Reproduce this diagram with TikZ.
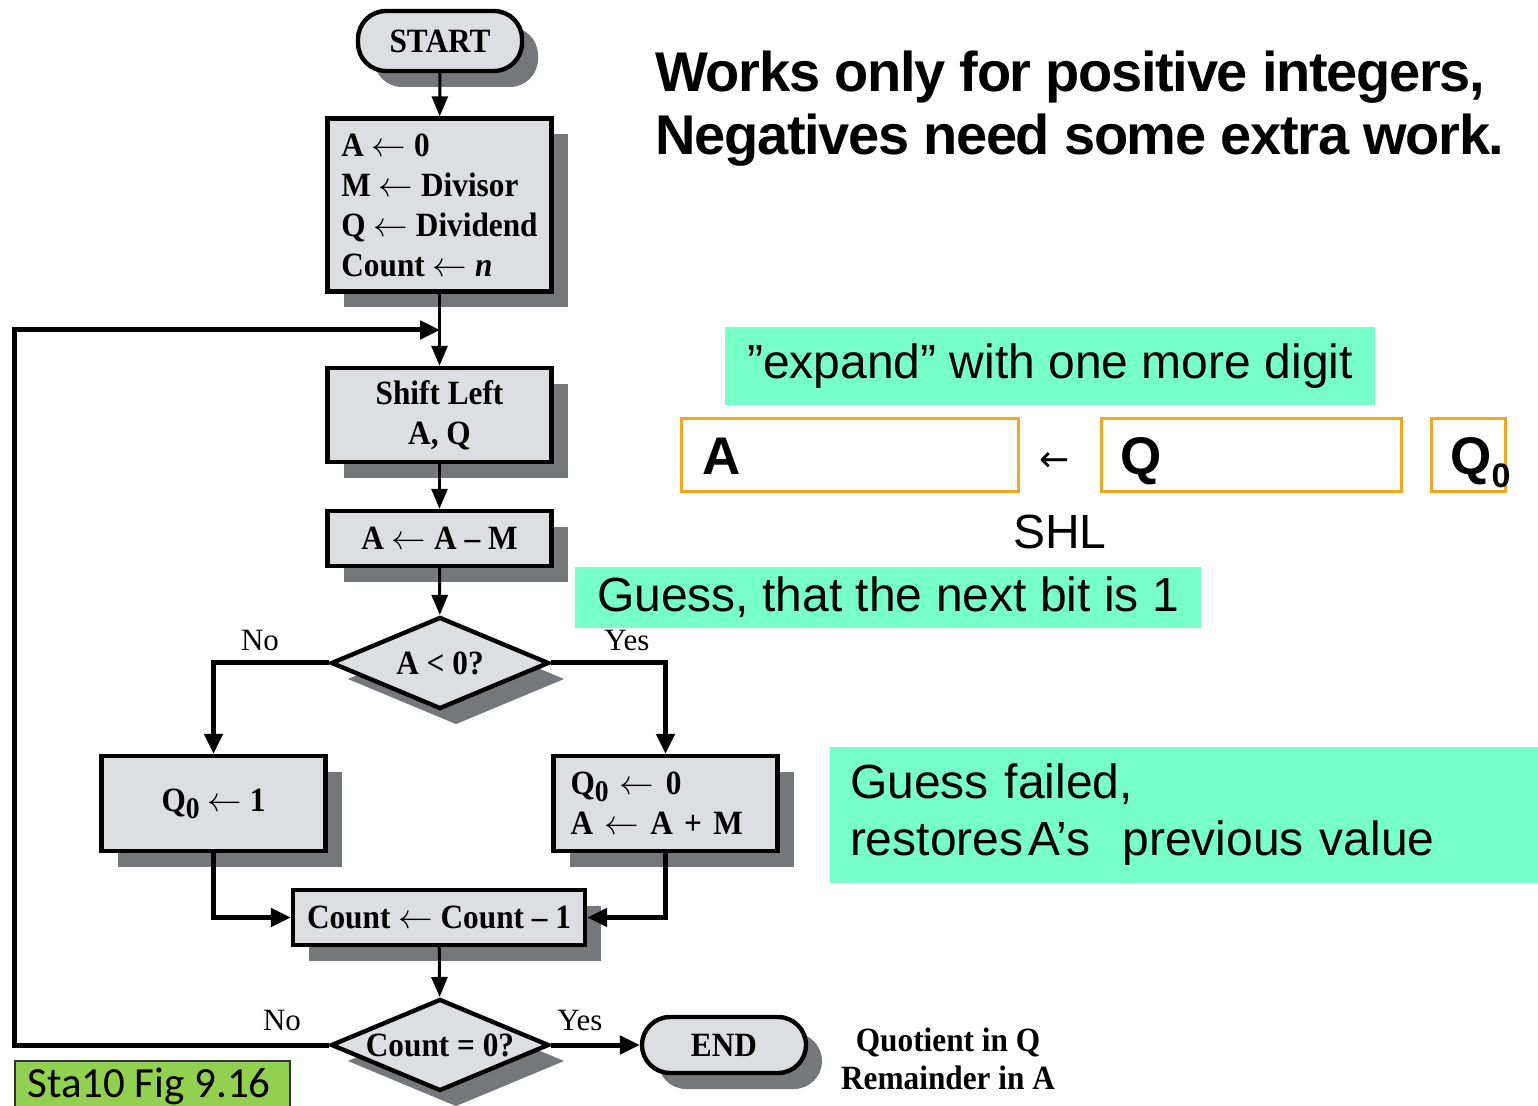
\documentclass[tikz,border=0pt]{standalone}
\usepackage{fontspec}
\usetikzlibrary{shapes.geometric,shadows,arrows.meta}
\setmainfont{Liberation Serif}
\newfontfamily\chartfont[FakeStretch=0.92]{Liberation Serif}
\newfontfamily\labelfont{Liberation Serif}
\newfontfamily\notefont{Liberation Sans}
\newfontfamily\headfont[LetterSpace=-2.4]{Liberation Sans}
\newfontfamily\tagfont{Carlito}
\newfontfamily\symfont{DejaVu Sans}

\definecolor{boxgray}{RGB}{220,222,225}
\definecolor{shadowgray}{RGB}{117,119,122}
\definecolor{aqua}{RGB}{118,255,200}
\definecolor{regorange}{RGB}{250,165,30}
\definecolor{taggreen}{RGB}{146,208,80}

\newcommand{\la}{$\leftarrow$}
\newcommand{\subzero}{\raisebox{-0.45ex}{\fontsize{15}{15}\selectfont 0}}

\tikzset{
  chart/.style={font={\chartfont\bfseries\fontsize{17}{20}\selectfont}},
  procbox/.style={rectangle, draw=black, line width=2.2pt, fill=boxgray,
    drop shadow={shadow xshift=8pt, shadow yshift=-8pt, fill=shadowgray, opacity=1},
    chart, inner sep=0pt, align=center},
  termbox/.style={procbox, rounded corners=14pt},
  decision/.style={procbox, diamond, minimum width=109pt, minimum height=46pt},
  flow/.style={line width=1.5pt, -{Triangle[length=10pt,width=8pt]}},
  branch/.style={line width=2.5pt, -{Triangle[length=10pt,width=9pt]}},
  yn/.style={font={\labelfont\fontsize{15.5}{15.5}\selectfont}},
  note/.style={fill=aqua, inner sep=0pt, font={\notefont\fontsize{24}{28.5}\selectfont}},
  regbox/.style={rectangle, draw=regorange, line width=1.5pt, fill=white,
    minimum height=36.5pt, inner sep=0pt},
  regname/.style={anchor=base west, inner sep=0pt, font={\notefont\bfseries\fontsize{26.5}{26.5}\selectfont}},
}

\begin{document}
\begin{tikzpicture}[x=0.5pt, y=-0.5pt]
\useasboundingbox (0,0) rectangle (1538,1106);
\clip (0,0) rectangle (1538,1106);

% ---- flowchart nodes ----
\node[termbox, minimum width=82pt, minimum height=30pt] (start) at (440,41) {START};
\node[procbox, minimum width=112pt, minimum height=86.5pt, align=left] (init) at (439.5,205)
  {A \la{} 0\\M \la{} Divisor\\Q \la{} Dividend\\Count \la{} \textit{n}};
\node[procbox, minimum width=112pt, minimum height=47pt] (shift) at (439.5,415) {Shift Left\\A, Q};
\node[procbox, minimum width=112pt, minimum height=27.5pt] (sub) at (439.5,538.5) {A \la{} A – M};
\node[decision] (neg) at (440,663) {\makebox[0pt]{A < 0?}};
\node[procbox, minimum width=112pt, minimum height=47.5pt] (setone) at (213.5,803.5) {Q\subzero{} \la{} 1};
\node[procbox, minimum width=112pt, minimum height=47.5pt, text width=95pt, align=left] (restore) at (665.5,803.5)
  {Q\subzero{} \la{} 0\\A \la{} A + M};
\node[procbox, minimum width=146pt, minimum height=27.5pt] (dec) at (439,917.5) {Count \la{} Count – 1};
\node[decision] (zero) at (440,1045) {\makebox[0pt]{Count = 0?}};
\node[termbox, minimum width=82pt, minimum height=28pt] (finish) at (724,1045) {END};

\node[chart, anchor=base] (quot) at (948,1051) {Quotient in Q};
\node[chart, anchor=base] (rem) at (948,1089) {Remainder in A};

% ---- connectors ----
\coordinate (join) at (440,330);
\coordinate (lowleft) at (14,1045);
\coordinate (upleft) at (14,330);
\draw[flow] (start) -- (init);
\draw[flow] (init) -- (shift);
\draw[flow] (shift) -- (sub);
\draw[flow] (sub) -- (neg);
\draw[branch] (neg.west) -| (setone.north);
\draw[branch] (neg.east) -| (restore.north);
\draw[branch] (setone.south) |- (dec.west);
\draw[branch] (restore.south) |- (dec.east);
\draw[flow] (dec) -- (zero);
\draw[branch] (zero.east) -- (finish.west);
\draw[branch] (zero.west) -- (lowleft) -- (upleft) -- (join);

\node[yn] (no1) at (260,641) {No};
\node[yn] (yes1) at (627,641) {Yes};
\node[yn] (no2) at (282,1020) {No};
\node[yn] (yes2) at (580,1020) {Yes};

% ---- heading ----
\node[anchor=base west, inner sep=0pt, font={\headfont\bfseries\fontsize{28}{28}\selectfont}] (head1) at (655,92)
  {Works only for positive integers,};
\node[anchor=base west, inner sep=0pt, font={\headfont\bfseries\fontsize{28}{28}\selectfont}] (head2) at (655,155)
  {Negatives need some extra work.};

% ---- register picture ----
\node[note, minimum width=325pt, minimum height=39pt] (expand) at (1050,366) {\raisebox{-2pt}{”expand” with one more digit}};
\node[regbox, minimum width=168.5pt] (rega) at (850,455) {};
\node[regbox, minimum width=150pt] (regq) at (1251.5,455) {};
\node[regbox, minimum width=37pt] (regq0) at (1468.5,455) {};
\node[regname] (namea) at (702,475) {A};
\node[regname] (nameq) at (1120,475) {Q};
\node[regname] (nameq0) at (1450,475) {Q\raisebox{-6.5pt}{\fontsize{17}{17}\selectfont 0}};
\node[font={\symfont\fontsize{18}{18}\selectfont}, inner sep=0pt] (shlarrow) at (1055,462) {←};
\node[anchor=base, inner sep=0pt, font={\notefont\fontsize{24}{24}\selectfont}] (shl) at (1060,549) {SHL};

\node[note, minimum width=313pt, minimum height=30.5pt] (guess) at (888,597.5) {Guess, that the next bit is 1};
\node[note, minimum width=354pt, minimum height=68pt, text width=334pt, align=left] (failed) at (1184,815)
  {\raisebox{-3pt}{Guess failed,}\\\raisebox{-3pt}{restores\hspace{0.1em}A’s\ \ previous value}};

% ---- figure tag ----
\node[rectangle, fill=taggreen, draw=black!80, line width=1pt, anchor=north west,
  minimum width=137.5pt, minimum height=30pt, inner sep=0pt] (tag) at (14,1060) {};
\node[anchor=base west, inner sep=0pt, font={\tagfont\fontsize{21.5}{21.5}\selectfont}] (tagtext) at (27,1097)
  {Sta10 Fig 9.16};
\end{tikzpicture}
\end{document}
